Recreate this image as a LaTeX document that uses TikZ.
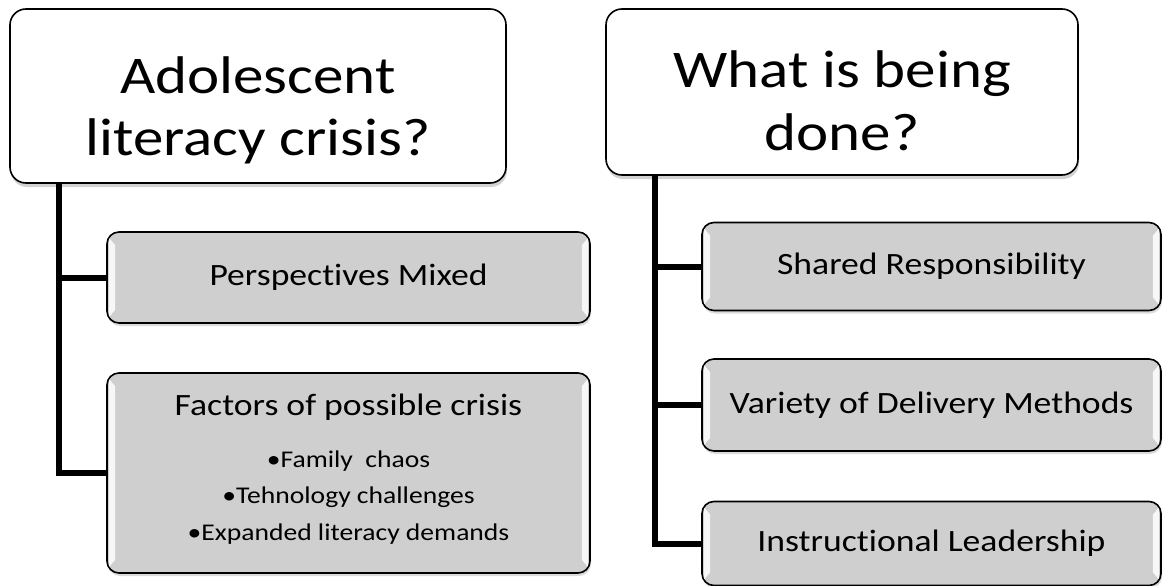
\documentclass[tikz,border=0pt]{standalone}
\usepackage{fontspec}
\setmainfont{Carlito}[FakeStretch=1.15, Ligatures=NoCommon]
\usetikzlibrary{shadows}
\tikzset{
  topbox/.style={draw=black, line width=1.6pt, fill=white, rounded corners=16pt,
    drop shadow={shadow xshift=1pt, shadow yshift=-4pt, opacity=0.25, fill=black!70},
    inner sep=0pt},
  toptext/.style={font=\fontsize{53}{62}\selectfont, anchor=base, inner sep=0pt},
  childbox/.style={draw=black, line width=1.6pt, fill=black!19, rounded corners=12pt,
    drop shadow={shadow xshift=1pt, shadow yshift=-3pt, opacity=0.2, fill=black!70},
    align=center, font=\fontsize{31}{37}\selectfont, inner sep=0pt},
  conn/.style={draw=black, line width=6pt},
  hilite/.style={fill=white, opacity=0.85},
  bullettext/.style={font=\fontsize{24}{30}\selectfont, anchor=base},
}
\newcommand\bevelbox[1]{%
  \fill[hilite] ([shift={(3pt,-7pt)}]#1.north west) -- ([shift={(9pt,-14pt)}]#1.north west)
    -- ([shift={(9pt,14pt)}]#1.south west) -- ([shift={(3pt,7pt)}]#1.south west) -- cycle;
  \fill[hilite] ([shift={(-3pt,-7pt)}]#1.north east) -- ([shift={(-9pt,-14pt)}]#1.north east)
    -- ([shift={(-9pt,14pt)}]#1.south east) -- ([shift={(-3pt,7pt)}]#1.south east) -- cycle;
}
\begin{document}
\begin{tikzpicture}[x=1pt,y=-1pt]
\useasboundingbox (0,0) rectangle (1163,586);

% top boxes
\node[topbox, minimum width=496pt, minimum height=174pt] (top1) at (258,96) {};
\node[toptext] (t1a) at (258,93) {Adolescent};
\node[toptext] (t1b) at (258,155) {literacy crisis?};
\node[topbox, minimum width=472pt, minimum height=166pt] (top2) at (842,92) {};
\node[toptext] (t2a) at (842,88) {What is being};
\node[toptext] (t2b) at (842,150) {done?};

% child boxes left
\node[childbox, minimum width=483pt, minimum height=91pt] (p1) at (348.5,277.5) {Perspectives Mixed};
\node[childbox, minimum width=483pt, minimum height=200pt] (p2) at (348.5,473) {};
\bevelbox{p1}
\bevelbox{p2}
\node[font=\fontsize{31}{37}\selectfont, anchor=base] (p2t) at (348.5,415) {Factors of possible crisis};
\node[bullettext] (b1) at (348.5,467) {•Family\ \ chaos};
\node[bullettext] (b2) at (348.5,503) {•Tehnology challenges};
\node[bullettext] (b3) at (348.5,540) {•Expanded literacy demands};

% child boxes right
\node[childbox, minimum width=459pt, minimum height=88pt] (s1) at (931.5,266.5) {Shared Responsibility};
\node[childbox, minimum width=459pt, minimum height=92pt] (s2) at (931.5,405) {Variety of Delivery Methods};
\node[childbox, minimum width=459pt, minimum height=84pt] (s3) at (931.5,543.5) {Instructional Leadership};
\bevelbox{s1}
\bevelbox{s2}
\bevelbox{s3}

% connectors
\coordinate (lt) at ([xshift=50pt]top1.south west);
\coordinate (rt) at ([xshift=50pt]top2.south west);
\draw[conn] (lt) |- (p2.west);
\draw[conn] (lt |- p1.west) -- (p1.west);
\draw[conn] (rt) |- (s3.west);
\draw[conn] (rt |- s1.west) -- (s1.west);
\draw[conn] (rt |- s2.west) -- (s2.west);
\end{tikzpicture}
\end{document}
